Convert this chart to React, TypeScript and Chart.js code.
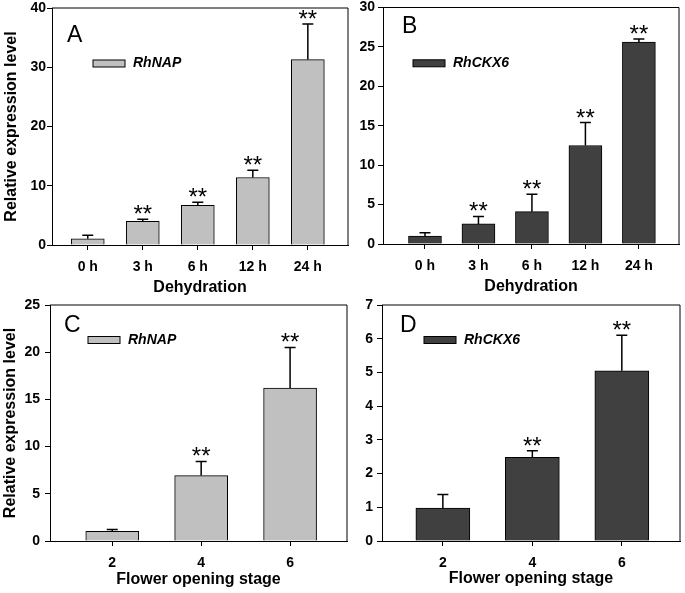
import React, { useEffect, useRef } from 'react';
import { Chart, registerables } from 'chart.js';

Chart.register(...registerables);

// ---------- data ----------
const dehydrationLabels = ['0 h', '3 h', '6 h', '12 h', '24 h'];
const stageLabels = ['2', '4', '6'];

const rhNapDehydration = [1.05, 4.0, 6.7, 11.4, 31.3];
const rhNapDehydrationErr = [0.6, 0.35, 0.5, 1.2, 6.0];
const rhNapDehydrationSig = ['', '**', '**', '**', '**'];

const rhCkx6Dehydration = [1.0, 2.55, 4.1, 12.5, 25.6];
const rhCkx6DehydrationErr = [0.44, 0.95, 2.2, 2.9, 0.4];
const rhCkx6DehydrationSig = ['', '**', '**', '**', '**'];

const rhNapStage = [1.03, 6.93, 16.2];
const rhNapStageErr = [0.2, 1.5, 4.3];
const rhNapStageSig = ['', '**', '**'];

const rhCkx6Stage = [0.98, 2.48, 5.05];
const rhCkx6StageErr = [0.4, 0.2, 1.05];
const rhCkx6StageSig = ['', '**', '**'];

// ---------- layout / style ----------
const W = 685;
const H = 593;
const OFF = 20;
const FONT = '"Liberation Sans", Arial, sans-serif';
const LIGHT = '#c0c0c0';
const DARK = '#404040';

type Panel = {
  letter: string;
  gene: string;
  labels: string[];
  values: number[];
  errors: number[];
  sig: string[];
  color: string;
  yMax: number;
  yStep: number;
  xTitle: string;
  yTitle: string;
  area: { l: number; t: number; r: number; b: number };
  xMin: number;
  xMax: number;
  barWidth: number;
  yLeft: number;
  yTickPad: number;
  xh: number;
  letterPos: { x: number; y: number };
  legendPos: { x: number; y: number };
};

const panels: Panel[] = [
  {
    letter: 'A', gene: 'RhNAP', labels: dehydrationLabels,
    values: rhNapDehydration, errors: rhNapDehydrationErr, sig: rhNapDehydrationSig,
    color: LIGHT, yMax: 40, yStep: 10, xTitle: 'Dehydration', yTitle: 'Relative expression level',
    area: { l: 52, t: 8, r: 348, b: 245 }, xMin: -0.65, xMax: 4.73, barWidth: 33,
    yLeft: 4, yTickPad: 1, xh: 51,
    letterPos: { x: 67, y: 41.5 }, legendPos: { x: 93, y: 63.5 },
  },
  {
    letter: 'B', gene: 'RhCKX6', labels: dehydrationLabels,
    values: rhCkx6Dehydration, errors: rhCkx6DehydrationErr, sig: rhCkx6DehydrationSig,
    color: DARK, yMax: 30, yStep: 5, xTitle: 'Dehydration', yTitle: '',
    area: { l: 383, t: 7.5, r: 679, b: 244 }, xMin: -0.785, xMax: 4.75, barWidth: 33,
    yLeft: 343, yTickPad: 3, xh: 51,
    letterPos: { x: 402, y: 33.3 }, legendPos: { x: 413, y: 63.3 },
  },
  {
    letter: 'C', gene: 'RhNAP', labels: stageLabels,
    values: rhNapStage, errors: rhNapStageErr, sig: rhNapStageSig,
    color: LIGHT, yMax: 25, yStep: 5, xTitle: 'Flower opening stage', yTitle: 'Relative expression level',
    area: { l: 50, t: 305, r: 347, b: 541 }, xMin: -0.7, xMax: 2.64, barWidth: 53,
    yLeft: 3, yTickPad: 5, xh: 47,
    letterPos: { x: 64, y: 331.5 }, legendPos: { x: 88, y: 340 },
  },
  {
    letter: 'D', gene: 'RhCKX6', labels: stageLabels,
    values: rhCkx6Stage, errors: rhCkx6StageErr, sig: rhCkx6StageSig,
    color: DARK, yMax: 7, yStep: 1, xTitle: 'Flower opening stage', yTitle: '',
    area: { l: 382, t: 305, r: 680, b: 541 }, xMin: -0.68, xMax: 2.65, barWidth: 54,
    yLeft: 342, yTickPad: 4, xh: 46,
    letterPos: { x: 400, y: 331.5 }, legendPos: { x: 424, y: 340 },
  },
];

function makeChart(canvas: HTMLCanvasElement, p: Panel) {
  const tickFont = { family: FONT, size: 14, weight: 'bold' as const, lineHeight: 1 };
  const titleFont = { family: FONT, size: 16, weight: 'bold' as const, lineHeight: 1 };

  const annot = {
    id: 'annot' + p.letter,
    afterDatasetsDraw(chart: any) {
      const { ctx, chartArea } = chart;
      const x = chart.scales.x;
      const y = chart.scales.y;
      ctx.save();
      // frame top & right
      ctx.strokeStyle = '#000';
      ctx.lineWidth = 1;
      ctx.beginPath();
      ctx.moveTo(chartArea.left, chartArea.top);
      ctx.lineTo(chartArea.right, chartArea.top);
      ctx.lineTo(chartArea.right, chartArea.bottom);
      ctx.stroke();

      // error bars + significance
      p.values.forEach((v, i) => {
        const px = x.getPixelForValue(i);
        const y0 = y.getPixelForValue(v);
        const y1 = y.getPixelForValue(v + p.errors[i]);
        ctx.strokeStyle = '#000';
        ctx.lineWidth = 1.5;
        ctx.beginPath();
        ctx.moveTo(px, y0);
        ctx.lineTo(px, y1);
        ctx.moveTo(px - 5.5, y1);
        ctx.lineTo(px + 5.5, y1);
        ctx.stroke();
        if (p.sig[i]) {
          ctx.fillStyle = '#000';
          ctx.font = `24px ${FONT}`;
          ctx.textAlign = 'center';
          ctx.textBaseline = 'alphabetic';
          ctx.fillText(p.sig[i], px, y1 + 3);
        }
      });

      // legend
      const ds = chart.data.datasets[0];
      const lx = p.legendPos.x;
      const ly = p.legendPos.y + OFF;
      ctx.fillStyle = ds.backgroundColor;
      ctx.fillRect(lx, ly - 3.5, 32, 7);
      ctx.strokeStyle = '#000';
      ctx.lineWidth = 1;
      ctx.strokeRect(lx, ly - 3.5, 32, 7);
      ctx.fillStyle = '#000';
      ctx.font = `italic bold 14px ${FONT}`;
      ctx.textAlign = 'left';
      ctx.textBaseline = 'middle';
      ctx.fillText(ds.label, lx + 40, ly);

      // panel letter
      ctx.font = `23px ${FONT}`;
      ctx.textBaseline = 'alphabetic';
      ctx.fillText(p.letter, p.letterPos.x, p.letterPos.y + OFF);
      ctx.restore();
    },
  };

  return new Chart(canvas, {
    type: 'bar',
    data: {
      datasets: [
        {
          label: p.gene,
          data: p.values.map((v, i) => ({ x: i, y: v })),
          backgroundColor: p.color,
          borderColor: '#000',
          borderWidth: 1,
          barThickness: p.barWidth,
        },
      ],
    },
    options: {
      responsive: false,
      animation: false,
      devicePixelRatio: 1,
      layout: {
        padding: {
          left: p.yLeft,
          top: p.area.t + OFF,
          right: W - p.area.r,
          bottom: H - p.area.b - p.xh,
        },
      },
      plugins: {
        legend: { display: false },
        tooltip: { enabled: false },
        title: { display: false },
      },
      scales: {
        x: {
          type: 'linear',
          min: p.xMin,
          max: p.xMax,
          offset: false,
          afterBuildTicks: (s: any) => {
            s.ticks = p.labels.map((_, i) => ({ value: i }));
          },
          afterFit: (s: any) => {
            s.height = p.xh;
          },
          ticks: {
            callback: (v: any) => p.labels[Math.round(Number(v))] ?? '',
            font: tickFont,
            color: '#000',
            padding: 10,
            maxRotation: 0,
            autoSkip: false,
          },
          grid: { drawOnChartArea: false, tickLength: 5, color: '#000', offset: false },
          border: { color: '#000', width: 1 },
          title: { display: true, text: p.xTitle, font: titleFont, color: '#000', padding: 0 },
        },
        y: {
          min: 0,
          max: p.yMax,
          afterFit: (s: any) => {
            s.width = p.area.l - p.yLeft;
          },
          ticks: {
            stepSize: p.yStep,
            font: tickFont,
            color: '#000',
            padding: p.yTickPad,
          },
          grid: { drawOnChartArea: false, tickLength: 5, color: '#000' },
          border: { color: '#000', width: 1 },
          title: {
            display: !!p.yTitle,
            text: p.yTitle,
            font: titleFont,
            color: '#000',
            padding: 0,
          },
        },
      },
    } as any,
    plugins: [annot],
  });
}

function PanelChart({ p }: { p: Panel }) {
  const ref = useRef<HTMLCanvasElement | null>(null);
  useEffect(() => {
    if (!ref.current) return;
    const chart = makeChart(ref.current, p);
    return () => chart.destroy();
  }, [p]);
  return (
    <canvas
      ref={ref}
      width={W}
      height={H + OFF}
      style={{ position: 'absolute', left: 0, top: -OFF, width: W, height: H + OFF }}
    />
  );
}

export default function App() {
  return (
    <div
      style={{
        position: 'absolute',
        left: 0,
        top: 0,
        width: W,
        height: H,
        overflow: 'hidden',
        background: '#fff',
      }}
    >
      {panels.map((p) => (
        <PanelChart key={p.letter} p={p} />
      ))}
    </div>
  );
}
